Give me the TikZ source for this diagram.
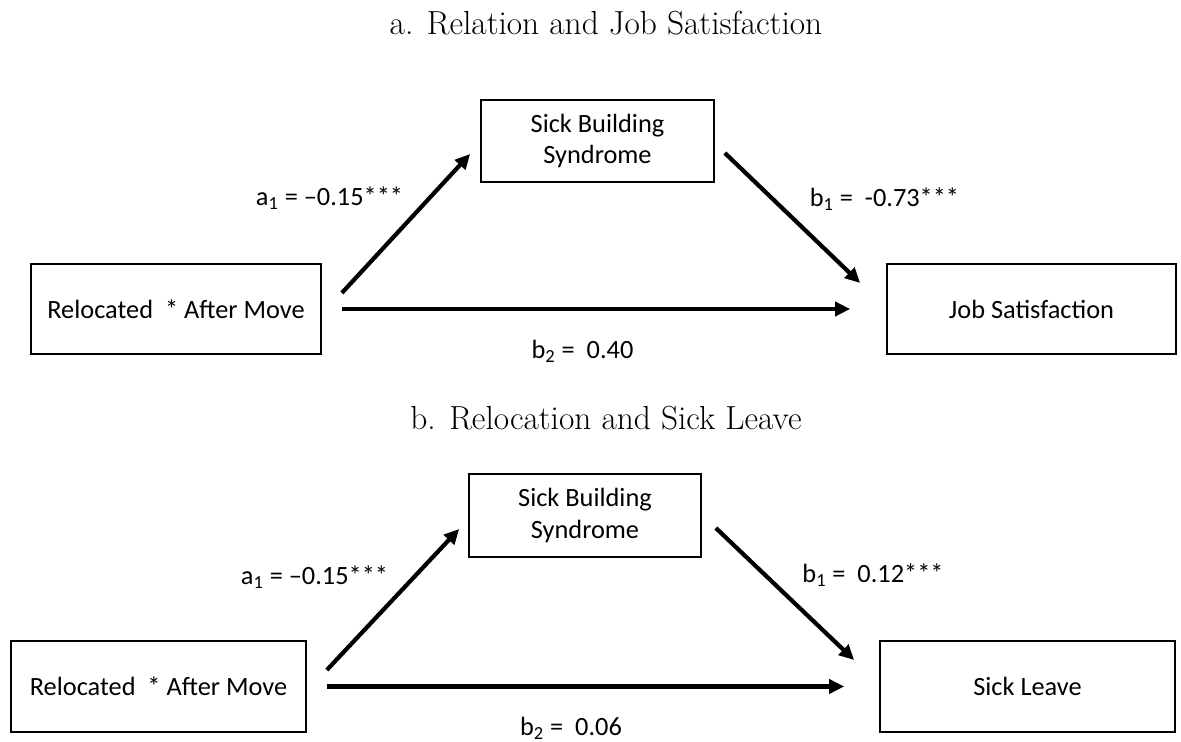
\documentclass[tikz,border=0pt]{standalone}
\usepackage{fontspec}
\newfontfamily\boxfont{Carlito}
\usetikzlibrary{arrows.meta,positioning,calc}

\begin{document}
\begin{tikzpicture}[x=0.02cm, y=-0.02cm,
        var/.style={draw, line width=1pt, minimum height=1.8cm, align=center, inner sep=0pt, font=\boxfont\fontsize{15}{18}\selectfont},
        effect/.style={-{Triangle[length=0.3cm,width=0.28cm]}, line width=2.4pt},
        coef/.style={font=\boxfont\fontsize{15}{18}\selectfont},
        panel/.style={font=\fontsize{19}{22}\selectfont}]
        \useasboundingbox (0,0) rectangle (1181,742);

        % Header a
        \node[panel] (titleA) at (606, 23) {a. Relation and Job Satisfaction};

        % Boxes a
        \node[var, minimum width=5.8cm] (relA) at (176, 309) {Relocated\ \ * After Move};
        \node[var, minimum width=4.66cm, minimum height=1.64cm] (sbsA) at (597.5, 141) {Sick Building\\Syndrome};
        \node[var, minimum width=5.78cm] (jobA) at (1031.5, 309) {Job Satisfaction};

        % Paths a
        \draw[effect] ($(relA.east)+(20,-16)$) -- ($(sbsA.west)+(-10,13)$);
        \draw[effect] ($(sbsA.east)+(10,12)$) -- ($(jobA.west)+(-26,-26)$);
        \draw[effect] ($(relA.east)+(20,0)$) -- ($(jobA.west)+(-36,0)$);
        \node[coef] (a1A) at (329.5, 198) {a\textsubscript{1} = –0.15***};
        \node[coef] (b1A) at (884.5, 199) {b\textsubscript{1} =\ \ -0.73***};
        \node[coef] (b2A) at (582.5, 351) {b\textsubscript{2} =\ \ 0.40};

        % Header b
        \node[panel] (titleB) at (606, 418) {b. Relocation and Sick Leave};

        % Boxes b
        \node[var, minimum width=5.9cm, minimum height=1.82cm] (relB) at (158.5, 686.5) {Relocated\ \ * After Move};
        \node[var, minimum width=4.64cm, minimum height=1.66cm] (sbsB) at (585, 515.5) {Sick Building\\Syndrome};
        \node[var, minimum width=5.9cm, minimum height=1.82cm] (slB) at (1027.5, 686.5) {Sick Leave};

        % Paths b
        \draw[effect] ($(relB.east)+(20,-16.5)$) -- ($(sbsB.west)+(-9,13.5)$);
        \draw[effect] ($(sbsB.east)+(14,12.5)$) -- ($(slB.west)+(-25,-26.5)$);
        \draw[effect] ($(relB.east)+(20,0)$) -- ($(slB.west)+(-35,0)$);
        \node[coef] (a1B) at (314.5, 577) {a\textsubscript{1} = –0.15***};
        \node[coef] (b1B) at (873, 575) {b\textsubscript{1} =\ \ 0.12***};
        \node[coef] (b2B) at (571, 728) {b\textsubscript{2} =\ \ 0.06};
\end{tikzpicture}
\end{document}
